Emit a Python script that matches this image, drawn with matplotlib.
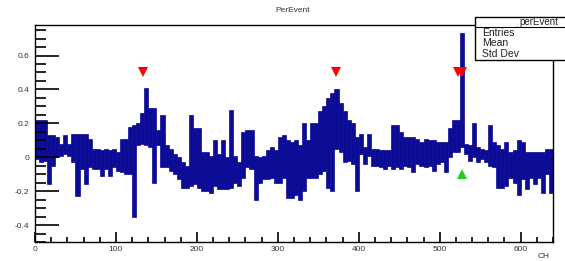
import numpy as np
import matplotlib
matplotlib.use("Agg")
import matplotlib.pyplot as plt
from matplotlib.ticker import MultipleLocator, FuncFormatter
from matplotlib.patches import Rectangle

plt.rcParams['font.family'] = ['Liberation Sans', 'DejaVu Sans']

bin_width = 5
bin_hi = [0.22, 0.22, 0.22, 0.13, 0.13, 0.12, 0.08, 0.13, 0.08, 0.14,
          0.14, 0.14, 0.14, 0.11, 0.05, 0.05, 0.04, 0.05, 0.04, 0.05,
          0.03, 0.11, 0.11, 0.18, 0.19, 0.20, 0.26, 0.41, 0.29, 0.29,
          0.16, 0.25, 0.07, 0.05, 0.02, 0.00, -0.03, -0.05, 0.25, 0.17,
          0.17, 0.03, 0.03, 0.01, 0.10, 0.02, 0.10, 0.00, 0.28, 0.01,
          -0.03, 0.15, 0.16, 0.16, 0.01, 0.00, 0.01, 0.04, 0.06, 0.04,
          0.12, 0.13, 0.10, 0.09, 0.10, 0.07, 0.20, 0.10, 0.20, 0.20,
          0.27, 0.30, 0.35, 0.38, 0.40, 0.32, 0.27, 0.22, 0.20, 0.12,
          0.14, 0.06, 0.14, 0.05, 0.05, 0.04, 0.04, 0.04, 0.19, 0.19,
          0.15, 0.12, 0.12, 0.12, 0.11, 0.09, 0.11, 0.10, 0.10, 0.09,
          0.09, 0.09, 0.17, 0.22, 0.22, 0.73, 0.08, 0.07, 0.20, 0.06,
          0.05, 0.04, 0.19, 0.09, 0.07, 0.05, 0.09, 0.03, 0.04, 0.10,
          0.09, 0.03, 0.03, 0.03, 0.03, 0.03, 0.05, 0.05]
bin_lo = [-0.01, -0.03, -0.02, -0.16, -0.05, 0.00, 0.01, 0.02, 0.01, -0.03,
          -0.23, -0.07, -0.16, -0.06, -0.07, -0.07, -0.11, -0.07, -0.11, -0.06,
          -0.08, -0.09, -0.10, -0.10, -0.35, 0.07, 0.08, 0.07, 0.06, -0.15,
          0.07, -0.06, -0.06, -0.08, -0.10, -0.13, -0.18, -0.18, -0.17, -0.16,
          -0.18, -0.20, -0.20, -0.21, -0.17, -0.19, -0.19, -0.19, -0.18, -0.15,
          -0.17, -0.12, -0.06, -0.07, -0.25, -0.15, -0.13, -0.13, -0.12, -0.15,
          -0.15, -0.12, -0.24, -0.24, -0.22, -0.25, -0.20, -0.12, -0.12, -0.12,
          -0.10, -0.08, -0.18, -0.20, 0.05, 0.03, -0.03, -0.02, -0.04, -0.20,
          0.02, -0.04, 0.01, -0.05, -0.05, -0.06, -0.07, -0.05, -0.07, -0.06,
          -0.07, -0.05, -0.06, -0.09, -0.04, -0.05, -0.06, -0.05, -0.08, -0.04,
          -0.03, -0.09, 0.00, 0.03, 0.03, 0.06, 0.02, -0.02, 0.00, -0.03,
          -0.01, -0.03, -0.05, -0.06, -0.18, -0.18, -0.17, -0.12, -0.15, -0.22,
          -0.13, -0.19, -0.12, -0.16, -0.12, -0.21, -0.10, -0.21]

peak_x = [134, 372, 523, 528]
peak_y = [0.505, 0.505, 0.505, 0.505]
valley_x = [528]
valley_y = [-0.1]

title = "PerEvent"
xlabel = "CH"
stats_name = "perEvent"
stats_rows = ["Entries", "Mean", "Std Dev"]

fig = plt.figure(figsize=(5.65, 2.61), dpi=100)
ax = fig.add_axes([35 / 565, 19 / 261, 518 / 565, 217 / 261])

edges = np.arange(len(bin_hi)) * bin_width
hi = np.array(bin_hi)
lo = np.array(bin_lo)
ax.bar(edges, hi - lo, bottom=lo, width=bin_width, align='edge',
       color='#0b0b96', edgecolor='#0b0b96', linewidth=0.5)

ax.plot(peak_x, peak_y, linestyle='none', marker='v', markersize=7,
        color='#ff0000', markeredgewidth=0)
ax.plot(valley_x, valley_y, linestyle='none', marker='^', markersize=7,
        color='#22cc22', markeredgewidth=0)

ax.set_xlim(0, 640)
ax.set_ylim(-0.5, 0.78)

ax.xaxis.set_major_locator(MultipleLocator(100))
ax.xaxis.set_minor_locator(MultipleLocator(20))
ax.yaxis.set_major_locator(MultipleLocator(0.2))
ax.yaxis.set_minor_locator(MultipleLocator(0.05))


def yfmt(v, pos):
    if abs(v) < 1e-9:
        return "0"
    return "%.1f" % v


ax.yaxis.set_major_formatter(FuncFormatter(yfmt))
ax.tick_params(axis='both', which='both', direction='in', labelsize=6,
               width=1.2, color='black', labelcolor='#333333',
               top=False, right=False)
ax.tick_params(axis='y', which='major', length=17, pad=4)
ax.tick_params(axis='y', which='minor', length=8)
ax.tick_params(axis='x', which='major', length=7, pad=3)
ax.tick_params(axis='x', which='minor', length=3.5)
for s in ax.spines.values():
    s.set_linewidth(1.0)
    s.set_color('black')

fig.text(293 / 565, 1 - 11 / 261, title, fontsize=6, ha='center',
         va='center', color='#333333')
fig.text(544 / 565, 1 - 257 / 261, xlabel, fontsize=6, ha='center',
         va='center', color='#333333')

# stats box
box = Rectangle((475 / 565, 1 - 60 / 261), 100 / 565, 43 / 261,
                transform=fig.transFigure, facecolor='white',
                edgecolor='black', linewidth=1.0, zorder=5)
fig.add_artist(box)
fig.add_artist(plt.Line2D([475 / 565, 1.0], [1 - 27 / 261, 1 - 27 / 261],
                          transform=fig.transFigure, color='black',
                          linewidth=0.8, zorder=6))
fig.text(539 / 565, 1 - 22 / 261, stats_name, fontsize=7, ha='center',
         va='center', color='#222222', zorder=7)
for i, r in enumerate(stats_rows):
    fig.text(482 / 565, 1 - (33 + 10.5 * i) / 261, r, fontsize=7.5,
             ha='left', va='center', color='#222222', zorder=7)

fig.savefig("out.png", dpi=100)
